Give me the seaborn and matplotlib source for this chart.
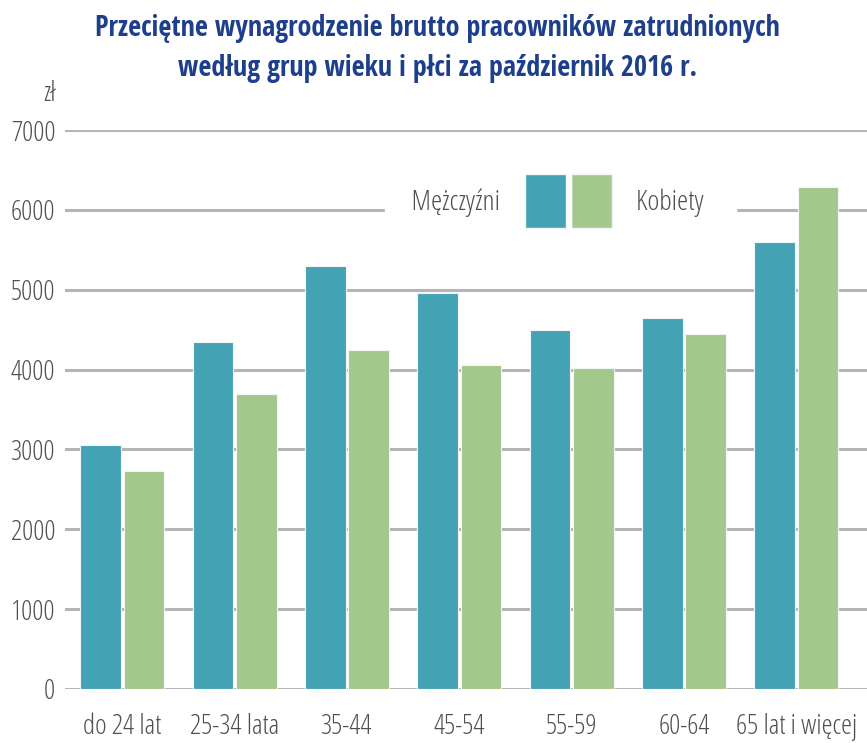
import matplotlib
matplotlib.use("Agg")
import matplotlib.pyplot as plt
from matplotlib.patches import Patch
import pandas as pd
import seaborn as sns

# Data (PLN, October 2016)
age_groups = ["do 24 lat", "25-34 lata", "35-44", "45-54", "55-59", "60-64", "65 lat i więcej"]
men = [3050, 4350, 5300, 4960, 4500, 4650, 5600]
women = [2730, 3700, 4250, 4060, 4020, 4450, 6290]
y_ticks = [0, 1000, 2000, 3000, 4000, 5000, 6000, 7000]
series_names = ["Mężczyźni", "Kobiety"]

df = pd.DataFrame({
    "grupa": age_groups * 2,
    "plec": [series_names[0]] * len(men) + [series_names[1]] * len(women),
    "wartosc": men + women,
})

MEN_COLOR = "#43a3b5"
WOMEN_COLOR = "#a3c88c"
GRID_COLOR = "#b5b5b8"
TEXT_COLOR = "#505050"
TITLE_COLOR = "#1d3f8c"

sns.set_theme(style="white")
# condensed light Open Sans for labels, condensed bold for the title
plt.rcParams["font.family"] = ["Open Sans", "DejaVu Sans"]
plt.rcParams["font.stretch"] = "condensed"
plt.rcParams["font.weight"] = 300

fig = plt.figure(figsize=(8.67, 7.43), dpi=100)
ax = fig.add_axes([0.075, 0.0727, 0.925, 0.7523])

sns.barplot(
    data=df, x="grupa", y="wartosc", hue="plec",
    palette={series_names[0]: MEN_COLOR, series_names[1]: WOMEN_COLOR},
    saturation=1, width=0.77, gap=0.06, edgecolor="#f4f4f4", linewidth=0.8,
    legend=False, ax=ax, zorder=3,
)

ax.set_ylim(0, 7000)
ax.set_xlim(-0.51, 6.63)
ax.set_yticks(y_ticks)
ax.yaxis.grid(True, color=GRID_COLOR, linewidth=2.2)
ax.set_axisbelow(True)
for s in ax.spines.values():
    s.set_visible(False)
ax.tick_params(axis="both", length=0, labelsize=20, colors=TEXT_COLOR)
ax.tick_params(axis="x", pad=17)
ax.tick_params(axis="y", pad=7)
ax.set_xlabel("")
ax.set_ylabel("")

ax.text(-0.012, 1.064, "zł", transform=ax.transAxes, ha="right", va="center",
        fontsize=20, color=TEXT_COLOR)

# Legend: label left of the first swatch, right of the second;
# white frames break the 6000 gridline like in the original
h_m = [Patch(facecolor=MEN_COLOR, edgecolor="#f4f4f4")]
h_k = [Patch(facecolor=WOMEN_COLOR, edgecolor="#f4f4f4")]
common = dict(fontsize=20.5, frameon=True, framealpha=1, facecolor="white",
              edgecolor="white", handlelength=1.45, handleheight=2.55,
              borderaxespad=0, borderpad=0.18, labelcolor=TEXT_COLOR,
              fancybox=False)
leg1 = ax.legend(h_m, ["    " + series_names[0]], loc="center right",
                 bbox_to_anchor=(0.631, 0.873), markerfirst=False,
                 handletextpad=0.85, **common)
leg1.set_zorder(6)
ax.add_artist(leg1)
ax.legend(h_k, [series_names[1] + "     "], loc="center left",
          bbox_to_anchor=(0.6244, 0.873), handletextpad=0.85, **common)

fig.text(0.505, 0.981,
         "Przeciętne wynagrodzenie brutto pracowników zatrudnionych\n"
         "według grup wieku i płci za październik 2016 r.",
         ha="center", va="top", family="Open Sans Condensed",
         fontsize=20.3, fontweight="bold", color=TITLE_COLOR,
         linespacing=1.5)

fig.savefig("out.png", dpi=100)
